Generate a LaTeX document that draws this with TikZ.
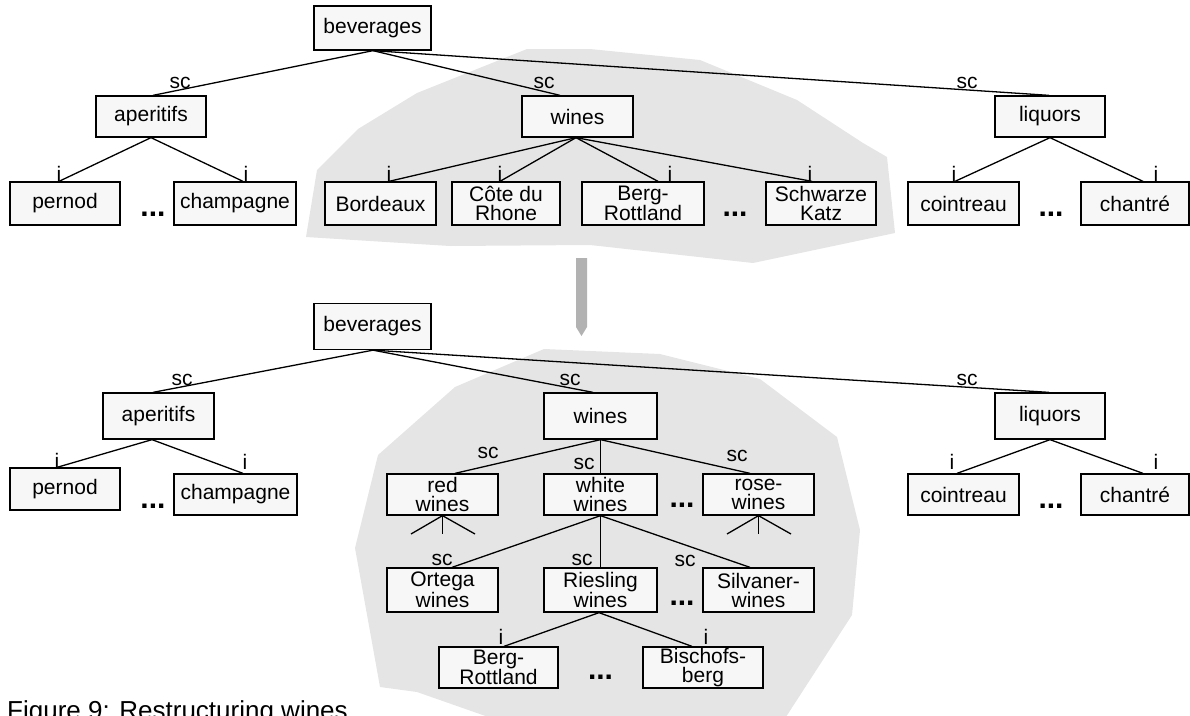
\documentclass[tikz,border=0pt]{standalone}
\usepackage{fontspec}
\setmainfont{Liberation Sans}
\begin{document}
\begin{tikzpicture}[x=1pt,y=-1pt,
  box/.style={draw=black, fill=black!3, line width=1.3pt, inner sep=0pt, font=\fontsize{21}{19}\selectfont, align=center},
  edge/.style={line width=1.3pt},
  lbl/.style={font=\fontsize{21}{21}\selectfont, inner sep=0pt, anchor=base},
  dots/.style={font=\fontsize{30}{30}\selectfont\bfseries, inner sep=0pt, anchor=base},
  blob/.style={fill=black!10, draw=none},
  arrowshape/.style={fill=black!30, draw=none}]
\useasboundingbox (0,0) rectangle (1190,715);
\clip (0,0) rectangle (1190,715);

% shaded regions
\path[blob] (306,237) -- (317,170) -- (358,129) -- (417,93) -- (527,49) -- (590,49) -- (700,60) -- (797,100) -- (863,143) -- (887,157) -- (895,233) -- (753,263) -- (590,245) -- (450,246) -- cycle;
\path[blob] (544,349) -- (660,354) -- (760,379) -- (837,437) -- (860,530) -- (852,615) -- (771,740) -- (554,740) -- (417,692) -- (380,687) -- (355,548) -- (378,455) -- (455,387) -- cycle;

% transformation arrow
\path[arrowshape] (576,258) -- (587,258) -- (587,327) -- (581.5,336) -- (576,327) -- cycle;

% ---------------- top tree ----------------
\node[box, minimum width=117pt, minimum height=44pt] (tbev) at (372.5,28) {beverages};
\node[box, minimum width=110pt, minimum height=41pt] (taper) at (151,116.5) {aperitifs};
\node[box, minimum width=111pt, minimum height=41pt] (twines) at (577.5,116.5) {wines};
\node[box, minimum width=110pt, minimum height=41pt] (tliq) at (1050,116.5) {liquors};
\node[box, minimum width=110pt, minimum height=43pt] (tpern) at (65,203.5) {pernod};
\node[box, minimum width=122pt, minimum height=43pt] (tchamp) at (235,203.5) {champagne};
\node[box, minimum width=111pt, minimum height=43pt] (tbord) at (380.5,203.5) {Bordeaux};
\node[box, minimum width=108pt, minimum height=43pt] (tcote) at (506,203.5) {Côte du\\Rhone};
\node[box, minimum width=122pt, minimum height=43pt] (tberg) at (643,203.5) {Berg-\\Rottland};
\node[box, minimum width=110pt, minimum height=43pt] (tschw) at (821,203.5) {Schwarze\\Katz};
\node[box, minimum width=111pt, minimum height=43pt] (tcoin) at (963.5,203.5) {cointreau};
\node[box, minimum width=108pt, minimum height=43pt] (tchan) at (1135,203.5) {chantré};

\draw[edge] ([xshift=0.5pt]tbev.south) -- ([xshift=2pt]taper.north);
\draw[edge] ([xshift=0.5pt]tbev.south) -- ([xshift=-17.5pt]twines.north);
\draw[edge] ([xshift=0.5pt]tbev.south) -- ([xshift=-1pt]tliq.north);
\draw[edge] (taper.south) -- ([xshift=-6pt]tpern.north);
\draw[edge] (taper.south) -- ([xshift=8pt]tchamp.north);
\draw[edge] ([xshift=-1.5pt]twines.south) -- ([xshift=8.5pt]tbord.north);
\draw[edge] ([xshift=-1.5pt]twines.south) -- ([xshift=-6pt]tcote.north);
\draw[edge] ([xshift=-1.5pt]twines.south) -- ([xshift=15pt]tberg.north);
\draw[edge] ([xshift=-1.5pt]twines.south) -- ([xshift=-9pt]tschw.north);
\draw[edge] (tliq.south) -- ([xshift=-8.5pt]tcoin.north);
\draw[edge] (tliq.south) -- ([xshift=8pt]tchan.north);

\node[lbl] (tl1) at (180,88.5) {sc};
\node[lbl] (tl2) at (544,88.5) {sc};
\node[lbl] (tl3) at (967,88.5) {sc};
\node[lbl] (tl4) at (59,181.5) {i};
\node[lbl] (tl5) at (246,181.5) {i};
\node[lbl] (tl6) at (389,181.5) {i};
\node[lbl] (tl7) at (500,181.5) {i};
\node[lbl] (tl8) at (670,181.5) {i};
\node[lbl] (tl9) at (810,181.5) {i};
\node[lbl] (tl10) at (954,181.5) {i};
\node[lbl] (tl11) at (1156,181.5) {i};

\node[dots] (td1) at (153,216) {...};
\node[dots] (td2) at (735,216.5) {...};
\node[dots] (td3) at (1051,216.5) {...};

% ---------------- bottom tree ----------------
\node[box, minimum width=117pt, minimum height=46pt] (bbev) at (372.5,326.5) {beverages};
\node[box, minimum width=111pt, minimum height=46pt] (baper) at (158.5,416) {aperitifs};
\node[box, minimum width=113pt, minimum height=46pt] (bwines) at (600.5,416) {wines};
\node[box, minimum width=110pt, minimum height=46pt] (bliq) at (1050,416) {liquors};
\node[box, minimum width=110pt, minimum height=42pt] (bpern) at (65,489) {pernod};
\node[box, minimum width=123pt, minimum height=41pt] (bchamp) at (235.5,494.5) {champagne};
\node[box, minimum width=111pt, minimum height=41pt] (bcoin) at (963.5,494.5) {cointreau};
\node[box, minimum width=108pt, minimum height=41pt] (bchan) at (1135,494.5) {chantré};
\node[box, minimum width=111pt, minimum height=41pt] (bred) at (442.5,494.5) {red\\wines};
\node[box, minimum width=113pt, minimum height=41pt] (bwhite) at (600.5,494.5) {white\\wines};
\node[box, minimum width=111pt, minimum height=41pt] (brose) at (758.5,494.5) {rose-\\wines};
\node[box, minimum width=111pt, minimum height=44pt] (bort) at (442.5,590) {Ortega\\wines};
\node[box, minimum width=113pt, minimum height=44pt] (bries) at (600.5,590) {Riesling\\wines};
\node[box, minimum width=111pt, minimum height=44pt] (bsilv) at (758.5,590) {Silvaner-\\wines};
\node[box, minimum width=119pt, minimum height=41pt] (bberg) at (498.5,667.5) {Berg-\\Rottland};
\node[box, minimum width=120pt, minimum height=41pt] (bbisch) at (703,667.5) {Bischofs-\\berg};

\draw[edge] ([xshift=0.5pt]bbev.south) -- ([xshift=-5.5pt]baper.north);
\draw[edge] ([xshift=0.5pt]bbev.south) -- ([xshift=-7.5pt]bwines.north);
\draw[edge] ([xshift=0.5pt]bbev.south) -- ([xshift=-1pt]bliq.north);
\draw[edge] ([xshift=-6.5pt]baper.south) -- ([xshift=-8pt]bpern.north);
\draw[edge] ([xshift=-6.5pt]baper.south) -- ([xshift=7.5pt]bchamp.north);
\draw[edge] (bliq.south) -- ([xshift=-6.5pt]bcoin.north);
\draw[edge] (bliq.south) -- ([xshift=8pt]bchan.north);
\draw[edge] (bwines.south) -- ([xshift=12.5pt]bred.north);
\draw[edge] (bwines.south) -- (bwhite.north);
\draw[edge] (bwines.south) -- ([xshift=-8.5pt]brose.north);
\draw[edge] (bwhite.south) -- ([xshift=9.5pt]bort.north);
\draw[edge] (bwhite.south) -- (bries.north);
\draw[edge] (bwhite.south) -- ([xshift=-8.5pt]bsilv.north);
\draw[edge] ([xshift=-1.5pt]bries.south) -- ([xshift=5.5pt]bberg.north);
\draw[edge] ([xshift=-1.5pt]bries.south) -- ([xshift=-11pt]bbisch.north);

% open fans below red and rose wines
\coordinate (rf1) at (411,534);
\coordinate (rf2) at (442.5,534);
\coordinate (rf3) at (475,534);
\draw[edge] (rf1) -- (bred.south) -- (rf3);
\draw[edge] (bred.south) -- (rf2);
\coordinate (sf1) at (727,534);
\coordinate (sf2) at (758.5,534);
\coordinate (sf3) at (791,534);
\draw[edge] (sf1) -- (brose.south) -- (sf3);
\draw[edge] (brose.south) -- (sf2);

\node[lbl] (bl1) at (182,385) {sc};
\node[lbl] (bl2) at (570,385) {sc};
\node[lbl] (bl3) at (967,385) {sc};
\node[lbl] (bl4) at (57,468.5) {i};
\node[lbl] (bl5) at (245,469) {i};
\node[lbl] (bl6) at (952,469) {i};
\node[lbl] (bl7) at (1156,469) {i};
\node[lbl] (bl8) at (488,458.5) {sc};
\node[lbl] (bl9) at (584,469) {sc};
\node[lbl] (bl10) at (737,461) {sc};
\node[lbl] (bl11) at (442,565) {sc};
\node[lbl] (bl12) at (582,565) {sc};
\node[lbl] (bl13) at (685,566) {sc};
\node[lbl] (bl14) at (501,644) {i};
\node[lbl] (bl15) at (706,644) {i};

\node[dots] (bd1) at (153,508.5) {...};
\node[dots] (bd2) at (1051,508) {...};
\node[dots] (bd3) at (682,507.5) {...};
\node[dots] (bd4) at (682,605.5) {...};
\node[dots] (bd5) at (600.5,679.5) {...};

% caption (cut off by the page edge)
\node[anchor=base west, inner sep=0pt, font=\fontsize{26}{26}\selectfont] (cap) at (7,719.3) {Figure 9: Restructuring wines};
\end{tikzpicture}
\end{document}
